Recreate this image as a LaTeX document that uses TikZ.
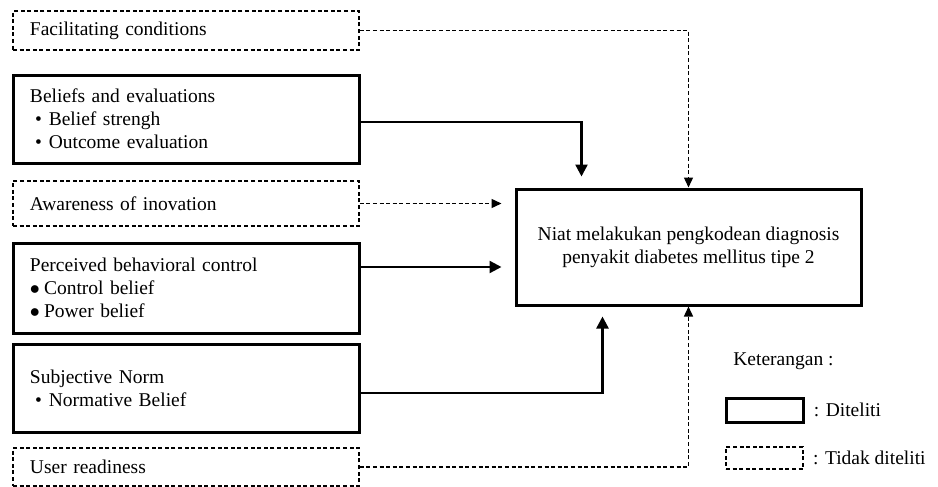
\documentclass[tikz,border=0pt]{standalone}
\usepackage{fontspec}
\setmainfont{Liberation Serif}
\usetikzlibrary{arrows.meta, positioning, calc}

\begin{document}
\begin{tikzpicture}[x=0.5pt, y=-0.5pt, font=\fontsize{9.75}{11.5}\selectfont,
    box/.style={draw, rectangle, minimum width=173pt, text width=156pt, inner xsep=8.5pt, inner ysep=0pt, align=left},
    solidbox/.style={box, line width=1.5pt},
    dashbox/.style={box, line width=0.7pt, dash pattern=on 2pt off 1.3pt},
    keybox/.style={draw, rectangle, minimum width=38.5pt, inner sep=0pt},
    solidline/.style={line width=1.2pt, -{Triangle[length=6pt,width=6pt]}},
    dashline/.style={line width=0.7pt, dash pattern=on 2pt off 1.3pt, -{Triangle[length=5pt,width=4.5pt]}}]
        \useasboundingbox (0,0) rectangle (938,487);
        % factors on the left
        \node[dashbox, minimum height=19.5pt] (fac) at (186,30.5) {Facilitating conditions};
        \node[solidbox, minimum height=44pt] (bel) at (186,119) {Beliefs and evaluations\\
            \hspace*{2.5pt}\textbullet\hspace{3.5pt}Belief strengh\\
            \hspace*{2.5pt}\textbullet\hspace{3.5pt}Outcome evaluation};
        \node[dashbox, minimum height=22.5pt] (awa) at (186,203.5) {Awareness of inovation};
        \node[solidbox, minimum height=45pt] (pbc) at (186,288) {Perceived behavioral control\\
            $\bullet$\hspace{2pt}Control belief\\
            $\bullet$\hspace{2pt}Power belief};
        \node[solidbox, minimum height=44pt] (sub) at (186,388) {Subjective Norm\\
            \hspace*{2.5pt}\textbullet\hspace{3.5pt}Normative Belief};
        \node[dashbox, minimum height=19pt] (usr) at (186,467) {User readiness};
        % intention
        \node[draw, line width=1.5pt, minimum width=172.5pt, minimum height=58pt, align=center] (main) at (688.5,247)
            {Niat melakukan pengkodean diagnosis\\penyakit diabetes mellitus tipe 2};
        % connectors
        \draw[dashline] (fac.east) -| (main.north);
        \draw[solidline, shorten >=5.5pt] ([yshift=-1.5pt]bel.east) -| ([xshift=33.5pt]main.north west);
        \draw[dashline, shorten >=6.5pt] (awa.east) -- (awa.east -| main.west);
        \draw[solidline, shorten >=6.5pt] ([yshift=10.5pt]pbc.east) -- ([yshift=10.5pt]pbc.east -| main.west);
        \draw[solidline, shorten >=5pt] ([yshift=-2.5pt]sub.east) -| ([xshift=44pt]main.south west);
        \draw[dashline] (usr.east) -| (main.south);
        % legend
        \node[anchor=west, inner sep=0pt] (ket) at (733,361) {Keterangan :};
        \node[keybox, line width=1.5pt, minimum height=12pt] (keyS) at (764.5,410) {};
        \node[right=4.5pt of keyS, inner sep=0pt] (keyStxt) {: Diteliti};
        \node[keybox, line width=0.7pt, dash pattern=on 2pt off 1.3pt, minimum height=11pt] (keyD) at (764.5,458) {};
        \node[right=4.5pt of keyD, inner sep=0pt] (keyDtxt) {: Tidak diteliti};
    \end{tikzpicture}
\end{document}
